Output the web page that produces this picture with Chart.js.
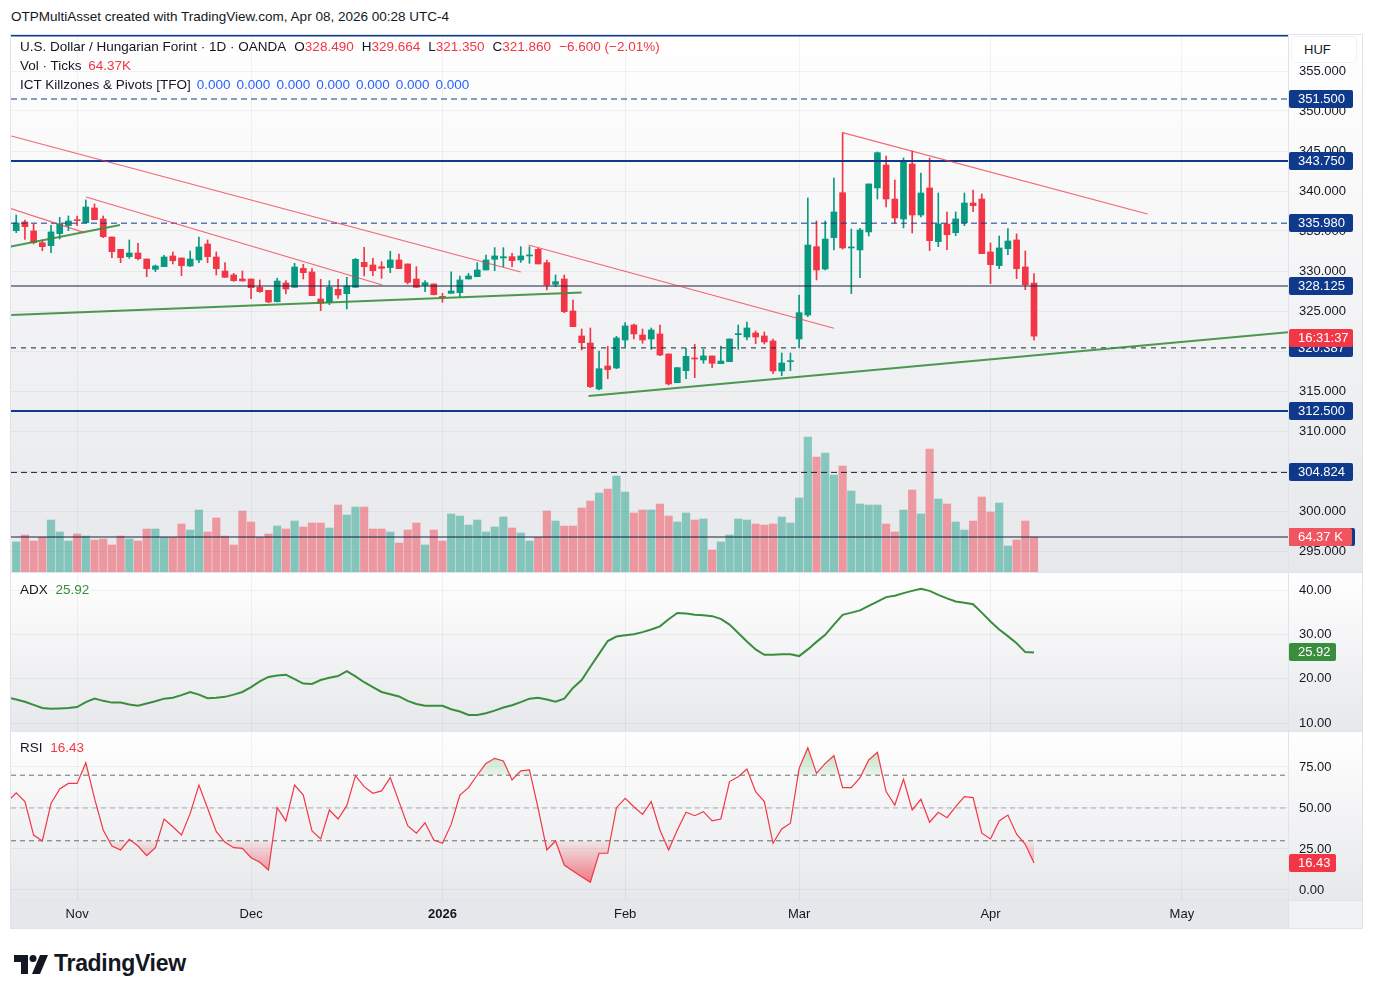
<!DOCTYPE html>
<html>
<head>
<meta charset="utf-8">
<script src="https://cdn.jsdelivr.net/npm/chart.js@4.4.1/dist/chart.umd.min.js"></script>
<style>
  body { margin: 0; background: #fff; width: 1373px; height: 997px; position: relative; overflow: hidden;
         font-family: "Liberation Sans", Arial, sans-serif; color: #131722; }
  .abs { position: absolute; }
  #title { left: 11px; top: 9px; font-size: 13.5px; white-space: nowrap; }
  #frame { left: 10px; top: 34px; width: 1351px; height: 893px; border: 1px solid #e0e3eb; }
  .sep { position: absolute; left: 11px; width: 1351px; height: 1px; background: #e0e3eb; }
  .leg { font-size: 13.5px; white-space: nowrap; line-height: 16px; }
  .leg .dn { color: #f23645; }
  .leg .bl { color: #2962ff; margin-left: 6px; }
  .leg .k { margin-left: 8px; }
  #huf { left: 1291px; top: 36px; width: 64px; height: 25px; background: #fff; border: 1px solid #f0f1f3;
         border-radius: 4px; font-size: 13px; line-height: 25px; text-indent: 12px; }
  #brand { left: 14px; top: 950px; font-size: 23px; font-weight: bold; letter-spacing: -0.3px; }
  #brand span { position: absolute; left: 40px; top: 0; white-space: nowrap; }
</style>
</head>
<body>
<div id="title" class="abs">OTPMultiAsset created with TradingView.com, Apr 08, 2026 00:28 UTC-4</div>
<div id="frame" class="abs"></div>
<canvas id="mainChart" class="abs" width="1351" height="537" style="left:11px;top:35px"></canvas>
<canvas id="adxChart" class="abs" width="1351" height="159" style="left:11px;top:572px"></canvas>
<canvas id="rsiChart" class="abs" width="1351" height="197" style="left:11px;top:731px"></canvas>
<div class="sep" style="top:572px"></div>
<div class="sep" style="top:731px"></div>
<div class="sep" style="top:900px"></div>
<div class="abs" style="left:1288px;top:35px;width:1px;height:893px;background:#e0e3eb"></div>

<div class="abs leg" style="left:20px;top:39px">U.S. Dollar / Hungarian Forint · 1D · OANDA<span class="k">O<span class="dn">328.490</span></span><span class="k">H<span class="dn">329.664</span></span><span class="k">L<span class="dn">321.350</span></span><span class="k">C<span class="dn">321.860</span></span><span class="k dn">−6.600 (−2.01%)</span></div>
<div class="abs leg" style="left:20px;top:58px">Vol · Ticks <span class="dn" style="margin-left:3px">64.37K</span></div>
<div class="abs leg" style="left:20px;top:77px">ICT Killzones &amp; Pivots [TFO]<span class="bl">0.000</span><span class="bl">0.000</span><span class="bl">0.000</span><span class="bl">0.000</span><span class="bl">0.000</span><span class="bl">0.000</span><span class="bl">0.000</span></div>
<div id="huf" class="abs">HUF</div>
<div class="abs leg" style="left:20px;top:582px">ADX <span style="color:#388e3c;margin-left:4px">25.92</span></div>
<div class="abs leg" style="left:20px;top:740px">RSI <span style="color:#f23645;margin-left:4px">16.43</span></div>

<div id="brand" class="abs">
  <svg width="34" height="20" viewBox="0 0 34 20" style="position:absolute;left:0;top:5px">
    <path d="M0 0h14v19h-7v-12h-7z" fill="#131722"/>
    <circle cx="19" cy="3.5" r="3.5" fill="#131722"/>
    <path d="M26 0h8l-8 19h-8z" fill="#131722"/>
  </svg>
  <span>TradingView</span>
</div>

<script>
// PRICE (daily candles, bar 0 = Oct 23 2025, bar 117 = Apr 8 2026)
const opens = [
  335.04,336.13,335.00,333.54,333.17,334.67,335.67,336.38,336.04,337.88,
  336.50,334.25,332.71,331.79,332.25,331.50,330.21,330.54,331.88,331.63,
  330.63,331.38,333.38,331.75,330.00,329.50,329.00,329.00,327.96,327.58,
  326.17,328.50,327.96,330.33,329.88,326.50,326.04,327.71,327.17,327.96,
  331.08,330.75,330.54,330.42,331.38,330.88,329.00,328.21,328.38,326.79,
  327.21,327.29,329.00,329.29,330.13,331.46,331.63,331.79,331.38,331.88,
  332.71,331.04,328.33,329.00,325.00,321.88,321.00,315.25,318.13,317.88,
  321.38,323.25,322.00,321.50,322.13,319.63,316.04,317.54,319.13,318.88,
  319.38,318.42,318.67,322.04,321.75,322.25,321.88,321.25,317.50,318.67,
  321.50,324.50,333.04,330.25,334.17,339.79,332.88,332.63,334.88,340.38,
  343.25,339.00,336.50,343.38,337.00,340.38,333.67,335.88,334.79,336.04,
  338.50,339.00,332.38,330.67,332.79,333.88,330.50,328.49
];
const highs = [
  337.00,336.38,335.88,333.88,335.71,336.70,336.88,336.88,338.88,338.38,
  336.88,334.25,332.71,333.88,333.46,331.50,330.75,331.96,332.38,331.63,
  332.50,334.25,333.88,332.38,331.04,329.71,330.00,329.00,328.88,327.58,
  329.10,328.79,330.96,330.83,330.29,328.96,328.79,328.96,329.21,331.58,
  332.96,331.58,331.17,332.46,332.13,330.88,330.54,328.79,328.38,327.20,
  329.90,329.38,329.71,331.04,332.00,332.92,332.92,332.20,333.04,333.04,
  332.83,331.38,329.50,329.50,326.38,322.75,322.88,320.00,320.58,321.83,
  323.54,323.38,322.75,322.88,323.25,319.63,317.92,320.33,320.83,320.20,
  319.38,320.63,321.50,323.25,323.63,322.50,322.38,321.50,319.75,319.75,
  327.00,339.13,336.25,336.25,341.63,347.29,335.25,335.33,340.88,344.88,
  344.38,341.38,344.13,345.00,342.25,344.13,339.75,337.38,337.38,339.75,
  340.13,339.63,333.50,334.38,335.29,334.63,332.50,329.664
];
const lows = [
  334.79,333.96,333.38,332.54,332.29,334.00,335.04,335.67,336.00,336.42,
  334.17,331.67,331.04,331.58,331.38,329.29,329.92,330.54,330.88,329.42,
  330.54,331.04,331.04,329.50,329.21,328.71,328.75,326.54,327.33,326.04,
  326.13,327.13,327.96,329.00,326.92,325.04,325.79,326.58,325.25,327.96,
  329.38,329.42,329.08,329.79,330.29,328.38,327.96,327.42,327.00,326.08,
  327.21,326.79,329.00,329.29,330.13,330.04,330.54,330.54,331.08,330.96,
  330.88,327.63,328.04,324.79,323.04,320.13,315.42,315.13,316.54,317.79,
  320.54,321.50,320.96,320.20,319.42,315.75,316.04,316.54,316.67,318.46,
  317.92,318.42,318.67,320.20,321.38,320.92,320.88,317.17,316.92,317.54,
  320.38,324.29,328.88,330.13,332.63,332.75,327.17,329.17,334.38,339.00,
  338.00,336.00,335.38,334.75,336.75,332.54,333.04,332.67,334.42,335.67,
  337.42,332.17,328.42,330.29,332.04,329.04,327.67,321.35
];
const closes = [
  336.00,335.54,333.54,333.04,334.88,335.88,336.25,336.29,338.00,336.42,
  334.29,332.42,331.67,332.25,331.54,330.29,330.63,331.75,331.29,330.67,
  331.50,333.00,331.79,330.29,329.21,328.79,328.75,327.92,327.42,326.13,
  328.75,327.75,330.50,329.79,326.92,325.96,327.96,327.00,328.13,331.46,
  330.54,330.04,330.33,331.38,330.29,328.58,327.96,328.54,327.04,326.71,
  327.50,328.88,329.38,330.13,331.38,331.88,331.79,331.29,331.88,331.96,
  330.88,328.25,328.67,324.92,323.04,321.04,315.54,317.79,317.67,321.63,
  323.13,322.13,321.38,322.63,319.50,315.88,317.92,319.33,319.00,319.38,
  318.46,318.75,321.50,322.17,322.88,321.75,321.13,317.50,318.50,318.79,
  324.79,333.25,330.13,334.00,337.38,332.88,333.00,335.13,340.88,344.79,
  339.00,336.63,343.79,337.00,339.75,333.79,335.88,334.54,336.50,338.50,
  338.17,332.17,330.79,332.88,333.75,330.29,328.29,321.86
];
// VOLUME (ticks, thousands)
const volumes = [
  55.2,68.0,57.0,63.8,95.6,73.6,57.0,69.9,66.2,58.8,
  60.7,49.7,66.2,60.7,57.0,79.1,79.1,63.8,63.8,88.3,
  77.2,114.0,73.6,99.3,66.2,49.7,112.2,92.0,63.8,69.9,
  84.6,79.1,93.8,82.8,90.1,90.1,80.9,123.2,104.8,119.5,
  119.5,79.1,79.1,73.6,53.3,77.2,90.1,49.7,77.2,57.0,
  106.7,103.0,86.4,95.6,73.6,82.8,101.2,80.9,71.7,57.0,
  63.8,112.2,93.8,84.6,84.6,117.7,130.6,145.3,152.6,176.5,
  147.1,108.5,114.0,114.0,125.1,103.0,92.0,108.5,95.6,97.5,
  40.5,55.2,68.0,97.5,95.6,88.3,86.4,88.3,101.2,90.1,
  136.1,248.3,211.5,218.8,178.4,194.9,149.0,125.1,123.2,123.2,
  88.3,73.6,114.0,150.8,106.7,226.2,134.2,125.1,92.0,77.2,
  93.8,137.9,110.3,126.9,47.8,58.8,93.8,64.37
];
// ADX and RSI, first value belongs to bar -1 (just off the left edge)
const indicatorStart = -1;
const adxValues = [
  15.8,
  15.3,14.8,14.1,13.4,13.2,13.3,13.4,13.6,14.7,15.5,
  15.0,14.6,14.6,14.2,13.9,14.4,14.9,15.5,15.7,16.3,
  17.0,16.4,15.6,15.7,15.9,16.4,17.0,18.1,19.4,20.4,
  20.7,20.9,19.9,18.9,18.8,19.7,20.2,20.6,21.7,20.5,
  19.2,18.1,17.0,16.5,16.0,15.0,14.3,13.9,13.9,13.9,
  13.1,12.6,11.8,11.8,12.2,12.8,13.5,14.0,14.7,15.5,
  15.7,15.3,14.8,15.5,17.9,19.7,22.7,25.6,28.5,29.5,
  29.8,30.0,30.5,31.1,31.8,33.4,34.8,34.7,34.4,34.3,
  34.1,33.5,32.2,30.3,28.4,26.6,25.4,25.4,25.5,25.5,
  25.1,26.6,28.3,29.9,32.2,34.4,34.9,35.4,36.4,37.4,
  38.4,38.7,39.3,39.8,40.3,39.8,38.9,38.1,37.4,37.1,
  36.8,34.9,32.9,31.1,29.6,28.0,26.0,25.92
];
const rsiValues = [
  53.9,
  59.3,53.9,33.5,29.9,52.8,61.6,65.0,65.0,77.6,55.9,
  36.6,26.8,24.4,30.9,26.8,20.9,25.8,43.3,38.6,33.5,
  46.7,64.0,49.8,35.6,29.1,25.8,25.4,19.7,16.9,12.2,
  50.2,42.1,64.0,57.9,36.0,31.1,48.8,43.3,51.4,69.7,
  63.0,59.0,60.4,68.5,53.9,39.2,34.6,41.0,30.5,28.5,
  40.0,57.9,62.4,70.1,77.2,80.3,78.7,67.1,72.6,73.2,
  49.8,24.4,29.9,15.2,11.6,8.1,4.7,22.4,22.4,50.2,
  55.9,50.8,46.1,53.9,36.6,24.4,36.6,47.4,45.3,47.8,
  42.1,43.3,66.1,69.1,73.8,60.0,53.9,28.5,37.2,40.7,
  74.2,86.8,71.1,77.2,81.9,62.4,62.4,68.5,79.3,83.9,
  60.0,51.8,67.5,48.8,55.3,41.3,47.4,44.1,50.8,56.9,
  56.3,34.6,31.1,42.1,45.7,34.0,27.9,16.43
];

// AXES
const monthTicks = [7, 27, 49, 70, 90, 112, 134];
const monthLabels = ["Nov", "Dec", "2026", "Feb", "Mar", "Apr", "May"];
const priceTicks = [355, 350, 345, 340, 335, 330, 325, 320, 315, 310, 305, 300, 295];
const adxTicks = [40, 30, 20, 10];
const rsiTicks = [75, 50, 25, 0];
const rsiGuides = [70, 50, 30];

// DRAWINGS (bar index, price)
const levelPrices = [359.4, 351.5, 343.75, 335.98, 328.125, 320.387, 312.5, 304.824, 296.75];
const redTrends = [
  [-0.57, 346.875, 58.0, 329.875],
  [8.03, 339.25, 42.1, 328.25],
  [-0.69, 337.84, 7.84, 334.79],
  [58.9, 333.25, 94.0, 322.84],
  [95.0, 347.29, 130.05, 337.125]
];
const greenTrends = [
  [-0.57, 324.5, 65.0, 327.3],
  [-0.69, 333.04, 11.93, 335.75],
  [65.8, 314.375, 146.2, 322.34]
];

// STYLE
const UP = "#089981", DOWN = "#f23645";
const UP_VOL = "rgba(8,153,129,0.45)", DOWN_VOL = "rgba(242,54,69,0.45)";
const NAVY = "#0f3a8c";
const DARK = "#16213f";
const GRID = "rgba(42,46,57,0.06)";
const X_MIN = -0.6, X_MAX = 146.2;
const AXIS_W = 74;
const FONT = '"Liberation Sans", Arial, sans-serif';
// line style for each level in levelPrices
const levelStyle = [
  { c: NAVY, w: 1.5, dash: [] }, { c: NAVY, w: 1, dash: [6, 4] }, { c: NAVY, w: 2, dash: [] },
  { c: NAVY, w: 1, dash: [6, 4] }, { c: DARK, w: 1, dash: [] }, { c: DARK, w: 1, dash: [5, 5] },
  { c: NAVY, w: 2, dash: [] }, { c: DARK, w: 1, dash: [6, 4] }, { c: DARK, w: 1, dash: [] }
];

Chart.defaults.font.family = FONT;
Chart.defaults.font.size = 13;
Chart.defaults.color = "#131722";
Chart.defaults.animation = false;

const isUp = i => closes[i] >= opens[i];
const seriesFrom = (vals, start) => vals.map((v, k) => ({ x: start + k, y: v }));

// SCALES
function timeScale(showLabels) {
  return {
    type: "linear", min: X_MIN, max: X_MAX, offset: false,
    grid: { color: GRID, offset: false, drawTicks: false },
    border: { display: false },
    afterBuildTicks: s => { s.ticks = monthTicks.map(v => ({ value: v })); },
    ticks: {
      display: showLabels, autoSkip: false, maxRotation: 0, padding: 7,
      callback: v => monthLabels[monthTicks.indexOf(v)],
      font: c => ({ size: 13, weight: c.tick && c.tick.value === 49 ? "bold" : "normal" })
    },
    afterFit: s => { s.height = showLabels ? 28 : 0; s.paddingLeft = 0; s.paddingRight = 0; }
  };
}

function valueScale(min, max, ticks, digits) {
  return {
    position: "right", min, max,
    grid: { color: GRID, drawTicks: false },
    border: { display: false },
    afterBuildTicks: s => { s.ticks = ticks.map(v => ({ value: v })); },
    ticks: { padding: 11, callback: v => v.toFixed(digits) },
    afterFit: s => { s.width = AXIS_W; s.paddingTop = 0; s.paddingBottom = 0; }
  };
}

// PLUGINS
const paneBg = {
  id: "paneBg",
  beforeDraw(chart) {
    const { ctx, width, height, chartArea } = chart;
    const g = ctx.createLinearGradient(0, 0, 0, chartArea.bottom);
    g.addColorStop(0, "#ffffff");
    g.addColorStop(1, "#e7e8eb");
    ctx.save();
    ctx.fillStyle = g;
    ctx.fillRect(0, 0, width, chartArea.bottom);
    if (height > chartArea.bottom) {
      ctx.fillStyle = "#e6e7ea";
      ctx.fillRect(0, chartArea.bottom, chartArea.right, height - chartArea.bottom);
      ctx.fillStyle = "#f1f2f4";
      ctx.fillRect(chartArea.right, chartArea.bottom, width - chartArea.right, height - chartArea.bottom);
    }
    ctx.restore();
  }
};

const axisLabels = {
  id: "axisLabels",
  afterDraw(chart, args, opts) {
    const { ctx, chartArea } = chart;
    ctx.save();
    ctx.font = "13px " + FONT;
    ctx.textBaseline = "middle";
    ctx.textAlign = "left";
    (opts.items || []).forEach(it => {
      const y = chart.scales[it.axis || "y"].getPixelForValue(it.value) + (it.dy || 0);
      ctx.fillStyle = it.bg;
      ctx.beginPath();
      ctx.roundRect(chartArea.right + 1, Math.round(y) - 9, it.w || 64, 18, 2);
      ctx.fill();
      if (it.text) {
        ctx.fillStyle = "#ffffff";
        ctx.fillText(it.text, chartArea.right + 10, Math.round(y) + 0.5);
      }
    });
    ctx.restore();
  }
};

function flatLine(y, color, width, dash, order) {
  return {
    type: "line", data: [{ x: X_MIN, y }, { x: X_MAX, y }],
    borderColor: color, borderWidth: width, borderDash: dash,
    pointRadius: 0, fill: false, order
  };
}

// MAIN PANE
const last = closes.length - 1;
const mainDatasets = [
  {
    type: "bar", yAxisID: "yv", grouped: false, order: 10, barThickness: 7.5,
    data: volumes.map((v, i) => ({ x: i, y: v })),
    backgroundColor: c => isUp(c.dataIndex) ? UP_VOL : DOWN_VOL
  },
  {
    type: "bar", grouped: false, order: 6, barThickness: 1,
    data: highs.map((h, i) => ({ x: i, y: [lows[i], h] })),
    backgroundColor: c => isUp(c.dataIndex) ? UP : DOWN
  },
  {
    type: "bar", grouped: false, order: 5, barThickness: 6, minBarLength: 1,
    data: opens.map((o, i) => ({ x: i, y: [o, closes[i]] })),
    backgroundColor: c => isUp(c.dataIndex) ? UP : DOWN
  }
];
levelPrices.forEach((p, k) => {
  mainDatasets.push(flatLine(p, levelStyle[k].c, levelStyle[k].w, levelStyle[k].dash, 2));
});
redTrends.forEach(t => mainDatasets.push({
  type: "line", data: [{ x: t[0], y: t[1] }, { x: t[2], y: t[3] }],
  borderColor: "rgba(242,54,69,0.75)", borderWidth: 1.2, pointRadius: 0, fill: false, order: 1
}));
greenTrends.forEach(t => mainDatasets.push({
  type: "line", data: [{ x: t[0], y: t[1] }, { x: t[2], y: t[3] }],
  borderColor: "rgba(56,142,60,0.9)", borderWidth: 2, pointRadius: 0, fill: false, order: 1
}));

const mainLabels = levelPrices.slice(1, 8).map(p => ({ value: p, bg: NAVY, text: p.toFixed(3) }));
mainLabels.push({ value: closes[last], dy: 1.5, bg: "#f23645", text: "16:31:37" });
mainLabels.push({ value: levelPrices[8], bg: NAVY, w: 66 });
mainLabels.push({ axis: "yv", value: volumes[last], bg: "#f0555f", w: 63, text: "64.37 K" });

new Chart(document.getElementById("mainChart"), {
  type: "bar",
  data: { datasets: mainDatasets },
  options: {
    responsive: false, maintainAspectRatio: false,
    layout: { padding: 0 },
    plugins: { legend: { display: false }, tooltip: { enabled: false }, axisLabels: { items: mainLabels } },
    scales: {
      x: timeScale(false),
      y: valueScale(292.375, 359.5, priceTicks, 3),
      yv: { display: false, min: 0, max: 988 }
    }
  },
  plugins: [paneBg, axisLabels]
});

// ADX PANE
new Chart(document.getElementById("adxChart"), {
  type: "line",
  data: {
    datasets: [{
      data: seriesFrom(adxValues, indicatorStart),
      borderColor: "#388e3c", borderWidth: 2, pointRadius: 0, tension: 0, fill: false
    }]
  },
  options: {
    responsive: false, maintainAspectRatio: false,
    layout: { padding: 0 },
    plugins: {
      legend: { display: false }, tooltip: { enabled: false },
      axisLabels: { items: [{ value: adxValues[adxValues.length - 1], bg: "#388e3c", w: 47, text: "25.92" }] }
    },
    scales: { x: timeScale(false), y: valueScale(8.2, 44.06, adxTicks, 2) }
  },
  plugins: [paneBg, axisLabels]
});

// RSI PANE
const rsiCanvas = document.getElementById("rsiChart");
const rctx = rsiCanvas.getContext("2d");
const redFill = rctx.createLinearGradient(0, 110, 0, 160);
redFill.addColorStop(0, "rgba(242,54,69,0.05)");
redFill.addColorStop(1, "rgba(242,54,69,0.75)");
const greenFill = rctx.createLinearGradient(0, 45, 0, 8);
greenFill.addColorStop(0, "rgba(76,175,80,0.08)");
greenFill.addColorStop(1, "rgba(76,175,80,0.45)");

const rsiData = seriesFrom(rsiValues, indicatorStart);
const rsiDatasets = [
  {
    data: rsiData, borderColor: "#f23645", borderWidth: 1.2, pointRadius: 0, tension: 0, order: 1,
    fill: { target: { value: 30 }, above: "rgba(0,0,0,0)", below: redFill }
  },
  {
    data: rsiData, borderWidth: 0, pointRadius: 0, tension: 0, order: 2,
    fill: { target: { value: 70 }, above: greenFill, below: "rgba(0,0,0,0)" }
  }
];
rsiGuides.forEach(v => rsiDatasets.push(
  flatLine(v, v === 50 ? "rgba(120,123,134,0.6)" : "rgba(80,83,94,0.85)", 1, [5, 4], 3)
));

new Chart(rsiCanvas, {
  type: "line",
  data: { datasets: rsiDatasets },
  options: {
    responsive: false, maintainAspectRatio: false,
    layout: { padding: 0 },
    plugins: {
      legend: { display: false }, tooltip: { enabled: false },
      axisLabels: { items: [{ value: rsiValues[rsiValues.length - 1], bg: "#f23645", w: 47, text: "16.43" }] }
    },
    scales: { x: timeScale(true), y: valueScale(-6.1, 96.95, rsiTicks, 2) }
  },
  plugins: [paneBg, axisLabels]
});
</script>
</body>
</html>
